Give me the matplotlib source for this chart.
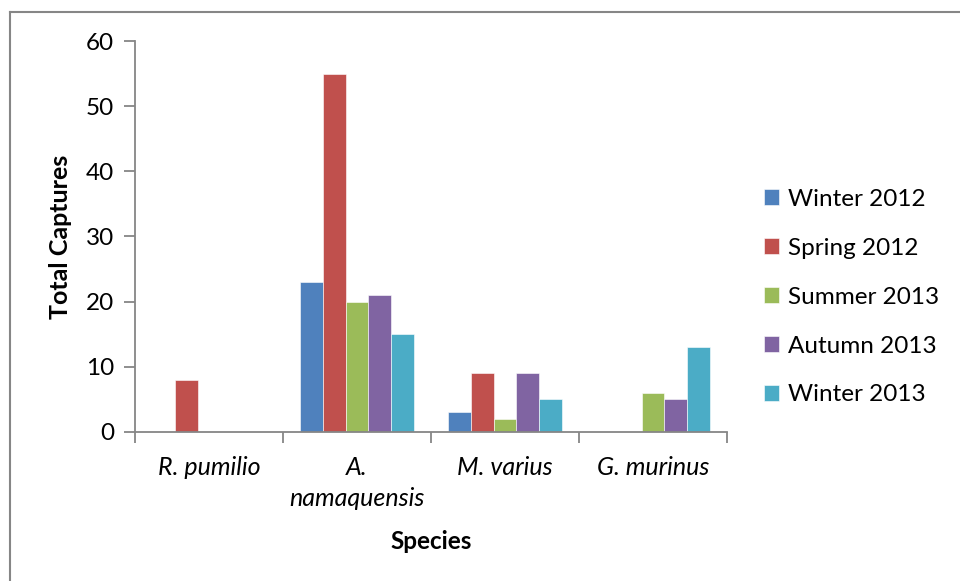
import numpy as np
import matplotlib.pyplot as plt
from matplotlib.lines import Line2D

plt.rcParams['font.family'] = ['Lato', 'DejaVu Sans']

species = ['R. pumilio', 'A.\nnamaquensis', 'M. varius', 'G. murinus']
seasons = ['Winter 2012', 'Spring 2012', 'Summer 2013', 'Autumn 2013', 'Winter 2013']
winter_2012 = [0, 23, 3, 0]
spring_2012 = [8, 55, 9, 0]
summer_2013 = [0, 20, 2, 6]
autumn_2013 = [0, 21, 9, 5]
winter_2013 = [0, 15, 5, 13]
colors = ['#4F81BD', '#C0504D', '#9BBB59', '#8064A2', '#4BACC6']

series = [winter_2012, spring_2012, summer_2013, autumn_2013, winter_2013]

fig = plt.figure(figsize=(9.6, 5.81), dpi=100)
ax = fig.add_axes([0.1406, 0.2565, 0.6167, 0.6729])

x = np.arange(len(species))
w = 0.155
for i, (vals, lab, c) in enumerate(zip(series, seasons, colors)):
    ax.bar(x + (i - 2) * w, vals, w, color=c, label=lab, edgecolor='white', linewidth=0.4)

ax.set_xlim(-0.5, len(species) - 0.5)
ax.set_ylim(0, 60)
ax.set_yticks(range(0, 61, 10))

# ticks sit on the category boundaries, labels in the middle
ax.set_xticks(np.arange(-0.5, len(species), 1.0))
ax.set_xticklabels([])
ax.set_xticks(x, minor=True)
ax.set_xticklabels(species, minor=True, fontstyle='italic', fontsize=18, linespacing=1.45)
ax.tick_params(axis='x', which='minor', length=0, pad=17)
ax.tick_params(axis='x', which='major', length=8, width=1.3, color='#868686')
ax.tick_params(axis='y', length=8, width=1.3, color='#868686', labelsize=17.5, pad=7)
for lbl in ax.get_xticklabels(minor=True):
    lbl.set_verticalalignment('top')

for s in ['top', 'right']:
    ax.spines[s].set_visible(False)
for s in ['left', 'bottom']:
    ax.spines[s].set_color('#868686')
    ax.spines[s].set_linewidth(1.3)

ax.set_ylabel('Total Captures', fontsize=18, fontweight='bold', labelpad=10)
ax.set_xlabel('Species', fontsize=17.5, fontweight='bold', labelpad=14)

ax.legend(loc='center left', bbox_to_anchor=(1.025, 0.345), frameon=False, fontsize=17.5,
          handlelength=0.65, handleheight=0.65, handletextpad=0.35, labelspacing=1.15)

# outer chart border
fig.add_artist(Line2D([9.5 / 960, 9.5 / 960], [0, 1 - 11.5 / 581], color='#868686', lw=1.5))
fig.add_artist(Line2D([9.5 / 960, 1], [1 - 11.5 / 581, 1 - 11.5 / 581], color='#868686', lw=1.5))

fig.savefig('out.png', dpi=100)
